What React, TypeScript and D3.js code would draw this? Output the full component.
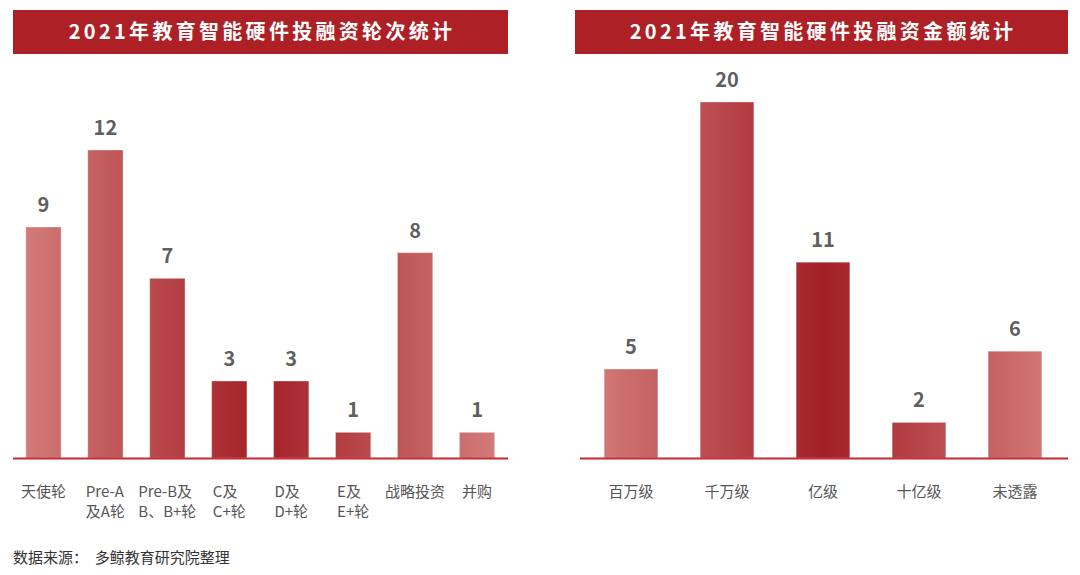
import React, { useEffect, useRef } from "react";
import * as d3 from "d3";

const roundCategories: string[][] = [
  ["天使轮"],
  ["Pre-A", "及A轮"],
  ["Pre-B及", "B、B+轮"],
  ["C及", "C+轮"],
  ["D及", "D+轮"],
  ["E及", "E+轮"],
  ["战略投资"],
  ["并购"],
];
const roundValues: number[] = [9, 12, 7, 3, 3, 1, 8, 1];

const amountCategories: string[][] = [["百万级"], ["千万级"], ["亿级"], ["十亿级"], ["未透露"]];
const amountValues: number[] = [5, 20, 11, 2, 6];

const titles = ["2021年教育智能硬件投融资轮次统计", "2021年教育智能硬件投融资金额统计"];
const sourceText = "数据来源：  多鲸教育研究院整理";

const FONT = "'Noto Sans CJK SC', 'Noto Sans', sans-serif";

export default function App() {
  const ref = useRef<SVGSVGElement>(null);

  useEffect(() => {
    const svg = d3.select(ref.current);
    svg.selectAll("*").remove();
    const defs = svg.append("defs");
    const baseline = 458;

    const panels = [
      { cats: roundCategories, vals: roundValues, tx0: 13, tx1: 508, ax0: 13, ax1: 508, bx0: 12.5, bx1: 508, title: titles[0], maxH: 308, pad: 0.43, gid: "g1" },
      { cats: amountCategories, vals: amountValues, tx0: 575, tx1: 1068, ax0: 580, ax1: 1068, bx0: 583, bx1: 1063, title: titles[1], maxH: 356, pad: 0.44, gid: "g2" },
    ];

    panels.forEach((p) => {
      const grad = defs
        .append("linearGradient")
        .attr("id", p.gid)
        .attr("gradientUnits", "userSpaceOnUse")
        .attr("x1", p.ax0)
        .attr("x2", p.ax1)
        .attr("y1", 0)
        .attr("y2", 0);
      grad.append("stop").attr("offset", "0%").attr("stop-color", "#d5807e");
      grad.append("stop").attr("offset", "50%").attr("stop-color", "#a31f26");
      grad.append("stop").attr("offset", "100%").attr("stop-color", "#d5807e");

      const g = svg.append("g");
      g.append("rect")
        .attr("x", p.tx0)
        .attr("y", 10)
        .attr("width", p.tx1 - p.tx0)
        .attr("height", 44)
        .attr("fill", "#ad2026");
      g.append("text")
        .attr("x", (p.tx0 + p.tx1) / 2 + 1.5)
        .attr("y", 39)
        .attr("text-anchor", "middle")
        .attr("fill", "#fff")
        .attr("font-family", FONT)
        .attr("font-weight", "bold")
        .attr("font-size", 20)
        .attr("letter-spacing", 3.3)
        .text(p.title);

      const x = d3
        .scaleBand<number>()
        .domain(d3.range(p.cats.length))
        .range([p.bx0, p.bx1])
        .paddingInner(p.pad)
        .paddingOuter(p.pad / 2);
      const maxV = d3.max(p.vals) as number;
      const y = d3.scaleLinear().domain([0, maxV]).range([baseline, baseline - p.maxH]);

      g.selectAll("rect.bar")
        .data(p.vals)
        .join("rect")
        .attr("class", "bar")
        .attr("x", (_, i) => x(i) as number)
        .attr("width", x.bandwidth())
        .attr("y", (d) => y(d))
        .attr("height", (d) => baseline - y(d))
        .attr("fill", `url(#${p.gid})`)
        .attr("stroke", "rgba(255,255,255,0.35)")
        .attr("stroke-width", 1);

      g.selectAll("text.val")
        .data(p.vals)
        .join("text")
        .attr("class", "val")
        .attr("x", (_, i) => (x(i) as number) + x.bandwidth() / 2)
        .attr("y", (d) => y(d) - 15)
        .attr("text-anchor", "middle")
        .attr("fill", "#5f5f5f")
        .attr("font-family", FONT)
        .attr("font-weight", "bold")
        .attr("font-size", 20)
        .text((d) => String(d));

      g.append("line")
        .attr("x1", p.ax0)
        .attr("x2", p.ax1)
        .attr("y1", baseline + 0.5)
        .attr("y2", baseline + 0.5)
        .attr("stroke", "#c52a30")
        .attr("stroke-width", 2);

      p.cats.forEach((lines, i) => {
        const cx = (x(i) as number) + x.bandwidth() / 2;
        const t = g
          .append("text")
          .attr("fill", "#555")
          .attr("font-family", FONT)
          .attr("font-size", 15);
        lines.forEach((ln, k) => {
          t.append("tspan").attr("x", 0).attr("y", 497 + k * 20).text(ln);
        });
        const w = (t.node() as SVGTextElement).getBBox().width;
        t.attr("transform", `translate(${cx - w / 2},0)`);
      });
    });

    svg
      .append("text")
      .attr("x", 13)
      .attr("y", 563)
      .attr("fill", "#333")
      .attr("font-family", FONT)
      .attr("font-size", 15)
      .attr("xml:space", "preserve")
      .style("white-space", "pre")
      .text(sourceText);
  }, []);

  return (
    <svg
      ref={ref}
      width={1080}
      height={575}
      style={{ position: "absolute", left: 0, top: 0, background: "#fff" }}
    />
  );
}
